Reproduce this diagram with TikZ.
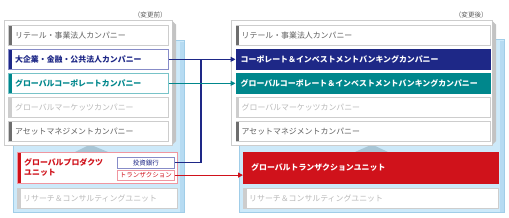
\documentclass[tikz,border=0pt]{standalone}
\usepackage{fontspec}
\setmainfont{Noto Sans CJK JP}
\usetikzlibrary{arrows.meta}
\definecolor{navy}{RGB}{30,40,135}
\definecolor{navylt}{RGB}{135,140,200}
\definecolor{teal2}{RGB}{0,135,140}
\definecolor{teallt}{RGB}{120,195,200}
\definecolor{red2}{RGB}{208,18,27}
\definecolor{pink2}{RGB}{240,150,160}
\definecolor{panelblue}{RGB}{205,233,249}
\definecolor{paneledge}{RGB}{160,205,232}
\definecolor{panelside}{RGB}{182,219,242}
\definecolor{boxgray}{RGB}{205,205,205}
\definecolor{darktext}{RGB}{95,95,95}
\definecolor{darkbar}{RGB}{110,110,110}
\definecolor{fainttext}{RGB}{185,185,185}
\definecolor{faintbar}{RGB}{205,205,205}
\definecolor{sidegray}{RGB}{195,195,195}
\definecolor{tricol}{RGB}{168,198,214}
\tikzset{
  box/.style={draw=boxgray, fill=white, line width=0.7pt, inner sep=0pt, anchor=north west, minimum height=20pt},
  lbox/.style={box, minimum width=160pt},
  rbox/.style={box, minimum width=254pt},
  lbl/.style={anchor=west, inner sep=0pt, font=\fontsize{7.9}{10}\selectfont},
  tag/.style={draw, fill=white, line width=0.7pt, inner sep=0pt, anchor=north west, minimum width=57pt, minimum height=10.5pt, font=\fontsize{6.5}{7}\selectfont},
  panel/.style={fill=panelblue, draw=paneledge, line width=0.6pt},
  wpanel/.style={fill=white, draw=boxgray, line width=0.7pt},
  conn/.style={line width=1.1pt, -{Triangle[length=5pt,width=5pt]}},
  head/.style={anchor=east, inner sep=0pt, text=darktext, font=\fontsize{6.6}{7}\selectfont}
}
\newcommand{\lbar}[2]{\fill[#2] ([xshift=0.6pt,yshift=-0.6pt]#1.north west) rectangle ([xshift=3.6pt,yshift=0.6pt]#1.south west);}
\begin{document}
\begin{tikzpicture}[x=1pt,y=-1pt]
\useasboundingbox (0,0) rectangle (509,217);
\fill[white] (0,0) rectangle (509,217);

% ---------- headings
\node[head] (hb) at (167,15) {（変更前）};
\node[head] (ha) at (488,15) {（変更後）};

% ---------- left panel
\draw[panel] (13,40) rectangle (184,212);
\fill[panelside] (180,42) rectangle (183.7,211.7);
\fill[tricol] (75,152) -- (90,144.5) -- (108,152) -- cycle;
\draw[wpanel] (4,20) rectangle (172,145);
\fill[sidegray] (172.4,21) -- (176,24.5) -- (176,141) -- (172.4,144.6) -- cycle;

\node[lbox] (L1) at (8,25) {};
\node[lbox, draw=navylt] (L2) at (8,49) {};
\node[lbox, draw=teallt] (L3) at (8,73) {};
\node[lbox] (L4) at (8,97) {};
\node[lbox] (L5) at (8,121) {};
\lbar{L1}{darkbar}
\lbar{L2}{navy}
\lbar{L3}{teal2}
\lbar{L4}{faintbar}
\lbar{L5}{darkbar}
\node[lbl, text=darktext] at ([xshift=7pt]L1.west) {リテール・事業法人カンパニー};
\node[lbl, text=navy, font=\fontsize{7.9}{10}\selectfont\bfseries] at ([xshift=7pt]L2.west) {大企業・金融・公共法人カンパニー};
\node[lbl, text=teal2, font=\fontsize{7.9}{10}\selectfont\bfseries] at ([xshift=7pt]L3.west) {グローバルコーポレートカンパニー};
\node[lbl, text=fainttext] at ([xshift=7pt]L4.west) {グローバルマーケッツカンパニー};
\node[lbl, text=darktext] at ([xshift=7pt]L5.west) {アセットマネジメントカンパニー};

\node[box, draw=pink2, minimum width=160pt, minimum height=31pt] (LU) at (17,152) {};
\lbar{LU}{red2}
\node[lbl, text=red2, align=left, font=\fontsize{7.9}{10}\selectfont\bfseries] at ([xshift=7pt]LU.west) {グローバルプロダクツ\\ユニット};
\node[tag, draw=navylt, text=navy] (IB) at (117,157) {投資銀行};
\node[tag, draw=pink2, text=red2] (TR) at (117,169.5) {トランザクション};
\node[lbox] (LR) at (17,188) {};
\lbar{LR}{faintbar}
\node[lbl, text=fainttext] at ([xshift=6pt]LR.west) {リサーチ＆コンサルティングユニット};

% ---------- right panel
\draw[panel] (239,39) rectangle (504,212);
\fill[panelside] (500,41) rectangle (503.7,211.7);
\fill[tricol] (355,152) -- (372,144.5) -- (388,152) -- cycle;
\draw[wpanel] (231.5,20) rectangle (492,145);
\fill[sidegray] (492.4,21) -- (496,24.5) -- (496,141) -- (492.4,144.6) -- cycle;

\node[rbox] (R1) at (235.5,25) {};
\node[rbox, fill=navy, draw=navy] (R2) at (235.5,49) {};
\node[rbox, fill=teal2, draw=teal2] (R3) at (235.5,73) {};
\node[rbox] (R4) at (235.5,97) {};
\node[rbox] (R5) at (235.5,121) {};
\lbar{R1}{darkbar}
\lbar{R4}{faintbar}
\lbar{R5}{darkbar}
\node[lbl, text=darktext] at ([xshift=6pt]R1.west) {リテール・事業法人カンパニー};
\node[lbl, text=white, font=\fontsize{7.9}{10}\selectfont\bfseries] at ([xshift=5pt]R2.west) {コーポレート＆インベストメントバンキングカンパニー};
\node[lbl, text=white, font=\fontsize{7.9}{10}\selectfont\bfseries] at ([xshift=5pt]R3.west) {グローバルコーポレート＆インベストメントバンキングカンパニー};
\node[lbl, text=fainttext] at ([xshift=6pt]R4.west) {グローバルマーケッツカンパニー};
\node[lbl, text=darktext] at ([xshift=6pt]R5.west) {アセットマネジメントカンパニー};

\node[box, fill=red2, draw=red2, minimum width=255pt, minimum height=31pt] (RU) at (243,152) {};
\node[lbl, text=white, font=\fontsize{7.9}{10}\selectfont\bfseries] at ([xshift=8pt]RU.west) {グローバルトランザクションユニット};
\node[box, minimum width=255pt] (RR) at (243,188) {};
\lbar{RR}{faintbar}
\node[lbl, text=fainttext] at ([xshift=6pt]RR.west) {リサーチ＆コンサルティングユニット};

% ---------- connectors
\coordinate (J) at (201,59);
\draw[conn, navy] (L2.east) -- (R2.west);
\draw[line width=1.1pt, navy] (IB.east) -| (J);
\draw[conn, teal2] (L3.east) -- (R3.west);
\draw[conn, red2] (TR.east) -- (TR.east -| RU.west);
\end{tikzpicture}
\end{document}
